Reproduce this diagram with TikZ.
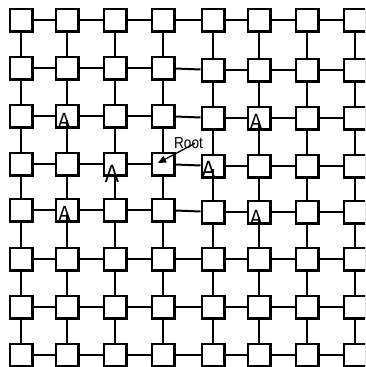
\documentclass[tikz,border=0pt]{standalone}
\usepackage{fontspec}
\newfontfamily\gridfont{Liberation Sans}[FakeStretch=0.85]
\usetikzlibrary{arrows.meta}
\definecolor{ink}{HTML}{000000}
\tikzset{
  >=Latex,
  cell/.style={draw=ink,line width=2.2pt,fill=white,minimum size=22.8pt,inner sep=0pt},
  link/.style={draw=ink,line width=2pt},
  atag/.style={font=\gridfont\fontsize{22}{22}\selectfont,text=ink,inner sep=0pt,anchor=base},
  bigtag/.style={atag,font=\gridfont\fontsize{25}{25}\selectfont},
  rootlabel/.style={font=\gridfont\fontsize{16}{16}\selectfont,text=ink,inner sep=0pt,anchor=base},
  ptr/.style={-{Triangle[length=8pt,width=7pt]},line width=1.3pt,draw=ink},
}

\begin{document}
\begin{tikzpicture}[x=1pt,y=-1pt]
  \useasboundingbox (0,0) rectangle (365,367);
  \clip (0,0) rectangle (365,367);
  % processor cells, right half of rows 2-5 sits a little lower
  \foreach \cx [count=\i] in {21,67,115,163,213,259,307,355}{
    \foreach \cy [count=\j] in {20,68,116,164,210,259,307,355}{
      \pgfmathsetmacro\dy{(\i>4)*(\j>1)*(\j<6)*2}
      \node[cell] (c\i-\j) at (\cx,\cy+\dy) {};
    }
  }
  % mesh links
  \foreach \i [evaluate=\i as \k using int(\i+1)] in {1,...,7}{
    \foreach \j in {1,...,8}{
      \draw[link] (c\i-\j) -- (c\k-\j);
      \draw[link] (c\j-\i) -- (c\j-\k);
    }
  }

  \node[atag] (a1) at (64,128) {A};
  \node[bigtag] (a2) at (112,182) {A};
  \node[bigtag] (a3) at (208.5,178) {A};
  \node[atag] (a4) at (256,129) {A};
  \node[atag] (a5) at (64.5,221.5) {A};
  \node[atag] (a6) at (256,225) {A};
  \draw[link] (c2-3.south) -- (c2-3.south |- a1.center);
  \draw[link] (c3-4.south) -- (c3-4.south |- a2.center);
  \draw[link] (c5-4.south) -- (c5-4.south |- a3.center);
  \draw[link] (c6-3.south) -- (c6-3.south |- a4.center);
  \draw[link] (c2-5.south) -- (c2-5.south |- a5.center);
  \draw[link] (c6-5.south) -- (c6-5.south |- a6.center);

  \node[rootlabel] (root) at (188.5,148) {Root};
  \coordinate (rootin) at (158,163);
  \draw[ptr] ([xshift=6.5pt,yshift=-0.7pt]root.center) -- (rootin);
\end{tikzpicture}
\end{document}
